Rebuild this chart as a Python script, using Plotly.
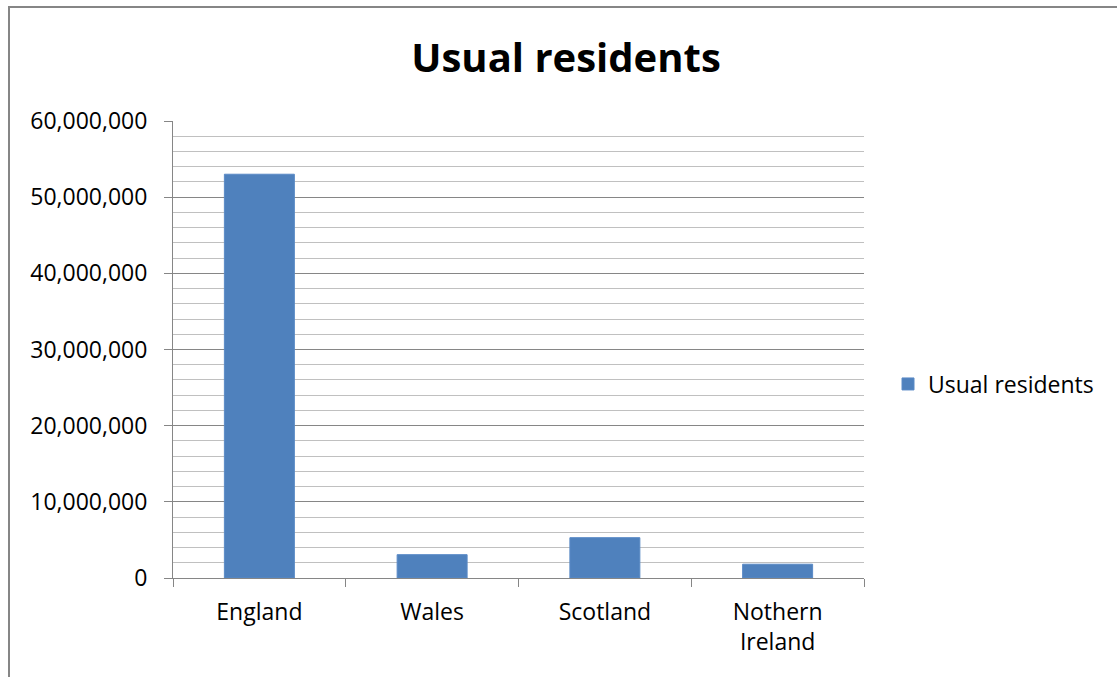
import plotly.graph_objects as go

categories = ["England", "Wales", "Scotland", "Nothern<br>Ireland"]
usual_residents = [53012456, 3063456, 5295403, 1810863]
series_name = "Usual residents"
y_tick_values = [0, 10000000, 20000000, 30000000, 40000000, 50000000, 60000000]
y_tick_labels = ["0", "10,000,000", "20,000,000", "30,000,000", "40,000,000", "50,000,000", "60,000,000"]

W, H = 1117, 677
L, R, T, B = 173, 864, 121, 578
pw, ph = R - L, B - T

def px_x(x):
    return (x - L) / pw

def px_y(y):
    return (B - y) / ph

font_family = "Open Sans, Noto Sans, sans-serif"

fig = go.Figure()
fig.add_trace(go.Bar(
    x=categories, y=usual_residents, name=series_name,
    marker=dict(color="#4F81BD", line=dict(color="#5a8ac6", width=1)),
    showlegend=True,
))

fig.update_layout(
    width=W, height=H,
    margin=dict(l=L, r=W - R, t=T, b=H - B, pad=0),
    paper_bgcolor="white", plot_bgcolor="white",
    bargap=0.595,
    font=dict(family=font_family, size=23, color="#000000"),
    title=dict(text="<b>Usual residents</b>", x=px_x(566), xref="paper", xanchor="center",
               y=1 - 58 / H, yref="container", yanchor="middle",
               font=dict(family=font_family, size=40, color="#000000")),
    showlegend=True,
    legend=dict(x=px_x(888), y=px_y(384), xanchor="left", yanchor="middle",
                font=dict(family=font_family, size=23, color="#000000"),
                bgcolor="rgba(0,0,0,0)", itemwidth=30),
    xaxis=dict(
        showline=True, linecolor="#868686", linewidth=1,
        ticks="outside", tickson="boundaries", ticklen=8, tickcolor="#868686",
        showgrid=False, tickfont=dict(size=23),
        ticklabelstandoff=13,
    ),
    yaxis=dict(
        range=[0, 60000000], tickvals=y_tick_values, ticktext=y_tick_labels,
        showline=True, linecolor="#868686", linewidth=1,
        ticks="outside", ticklen=8, tickcolor="#868686",
        showgrid=True, gridcolor="#868686", gridwidth=1,
        zeroline=False,
        minor=dict(dtick=2000000, showgrid=True, gridcolor="#c0c0c0", gridwidth=1, ticks=""),
        tickfont=dict(size=23),
        ticklabelstandoff=12,
    ),
    shapes=[dict(type="rect", xref="paper", yref="paper",
                 x0=px_x(9), x1=px_x(1130), y0=px_y(690), y1=px_y(7),
                 line=dict(color="#868686", width=2), fillcolor="rgba(0,0,0,0)", layer="below")],
)

fig.write_html("out.html")
